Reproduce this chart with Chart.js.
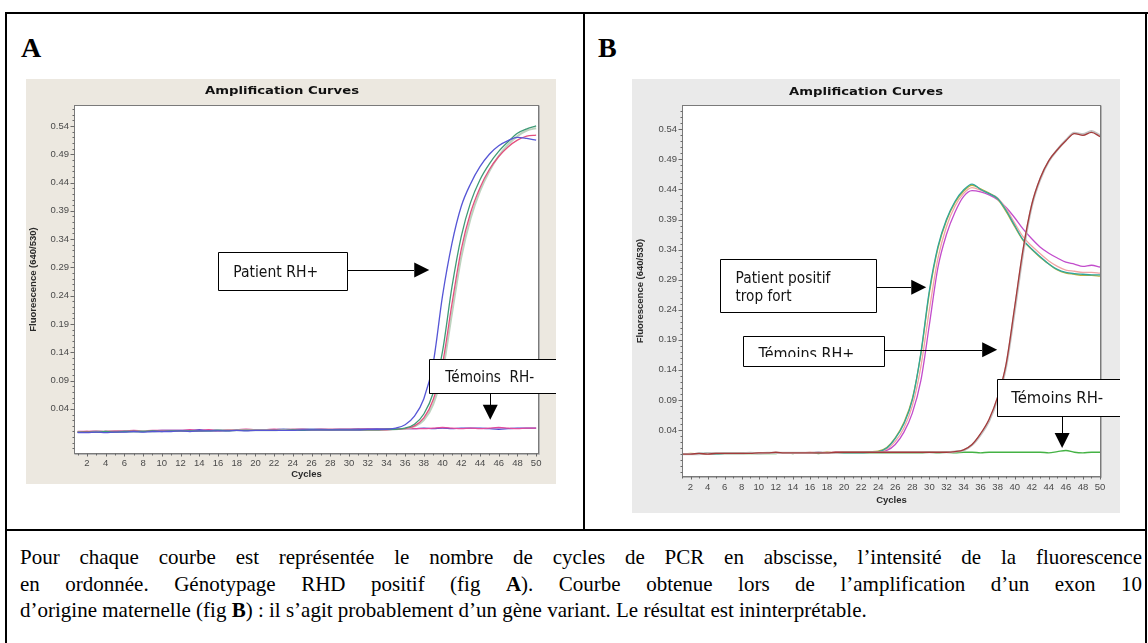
<!DOCTYPE html>
<html lang="fr">
<head>
<meta charset="utf-8">
<title>Amplification Curves</title>
<script src="https://cdn.jsdelivr.net/npm/chart.js@4.4.1/dist/chart.umd.min.js"></script>
<style>
  html, body { margin: 0; padding: 0; background: #fff; }
  body { width: 1148px; height: 643px; position: relative; overflow: hidden; }
  .ln { position: absolute; background: #000; }
  .plab { position: absolute; font-family: "Liberation Serif", serif; font-weight: bold; font-size: 28px; line-height: 28px; color: #000; }
  .cv { position: absolute; }
  .cap { position: absolute; left: 20px; font-family: "Liberation Serif", serif; font-size: 21px; line-height: 22px; white-space: nowrap; color: #000; }
</style>
</head>
<body>
<div class="ln" style="left:5px;top:12px;width:1143px;height:2px"></div>
<div class="ln" style="left:5px;top:12px;width:2px;height:631px"></div>
<div class="ln" style="left:1145px;top:12px;width:2px;height:631px"></div>
<div class="ln" style="left:583px;top:12px;width:2px;height:518px"></div>
<div class="ln" style="left:5px;top:529px;width:1142px;height:2px"></div>

<div class="plab" style="left:21px;top:34px">A</div>
<div class="plab" style="left:598px;top:34px">B</div>

<canvas id="chartA" class="cv" style="left:26px;top:79px" width="530" height="405"></canvas>
<canvas id="chartB" class="cv" style="left:632px;top:79px" width="488" height="434"></canvas>

<div id="cap1" class="cap" style="top:546px">Pour chaque courbe est représentée le nombre de cycles de PCR en abscisse, l’intensité de la fluorescence</div>
<div id="cap2" class="cap" style="top:573px">en ordonnée. Génotypage RHD positif (fig <b>A</b>). Courbe obtenue lors de l’amplification d’un exon 10</div>
<div id="cap3" class="cap" style="top:599px">d’origine maternelle (fig <b>B</b>) : il s’agit probablement d’un gène variant. Le résultat est ininterprétable.</div>

<script>
// ---------------- DATA ----------------
const cycles = [1,2,3,4,5,6,7,8,9,10,11,12,13,14,15,16,17,18,19,20,21,22,23,24,25,
                26,27,28,29,30,31,32,33,34,35,36,37,38,39,40,41,42,43,44,45,46,47,48,49,50];
const xTickValues = [2,4,6,8,10,12,14,16,18,20,22,24,26,28,30,32,34,36,38,40,42,44,46,48,50];
const yTickValues = [0.04,0.09,0.14,0.19,0.24,0.29,0.34,0.39,0.44,0.49,0.54];

// Panel A – RHD positive patient (4 replicates) and RH- controls
const A_blue = [
 -0.002,-0.002,-0.001,-0.002,-0.001,-0.001,0.000,-0.001,0.000,0.000,
 0.000,0.001,0.000,0.001,0.001,0.001,0.001,0.002,0.001,0.002,
 0.002,0.002,0.002,0.002,0.003,0.003,0.003,0.003,0.003,0.003,
 0.003,0.004,0.004,0.004,0.006,0.012,0.027,0.058,0.121,0.240,
 0.332,0.398,0.438,0.468,0.490,0.505,0.514,0.520,0.518,0.515];
const A_green = [
 -0.001,-0.001,-0.001,0.000,-0.001,0.000,0.000,0.000,0.001,0.000,
 0.001,0.001,0.001,0.001,0.001,0.002,0.001,0.002,0.002,0.002,
 0.002,0.002,0.002,0.003,0.002,0.003,0.003,0.003,0.003,0.003,
 0.003,0.003,0.003,0.004,0.004,0.006,0.013,0.031,0.068,0.142,
 0.255,0.345,0.405,0.445,0.473,0.495,0.512,0.527,0.535,0.540];
const A_pink = [
 -0.001,0.000,-0.001,0.000,0.000,0.000,0.001,0.000,0.001,0.001,
 0.001,0.001,0.001,0.001,0.002,0.001,0.002,0.002,0.002,0.002,
 0.002,0.003,0.002,0.003,0.003,0.003,0.003,0.003,0.003,0.003,
 0.003,0.003,0.003,0.003,0.004,0.005,0.010,0.024,0.056,0.120,
 0.225,0.322,0.387,0.431,0.463,0.486,0.503,0.515,0.522,0.524];
const A_pale = [
 -0.001,-0.001,0.000,0.000,0.000,0.000,0.000,0.001,0.000,0.001,
 0.001,0.001,0.001,0.001,0.001,0.002,0.002,0.002,0.002,0.002,
 0.002,0.002,0.003,0.003,0.003,0.003,0.003,0.003,0.003,0.003,
 0.003,0.003,0.003,0.003,0.004,0.005,0.009,0.020,0.048,0.106,
 0.208,0.308,0.377,0.425,0.460,0.487,0.507,0.522,0.532,0.536];
const A_negMagenta = [
 0.000,0.000,0.001,0.000,0.001,0.001,0.002,0.001,0.002,0.002,
 0.002,0.002,0.003,0.002,0.003,0.002,0.003,0.003,0.004,0.003,
 0.003,0.004,0.003,0.004,0.004,0.003,0.004,0.004,0.004,0.004,
 0.004,0.005,0.004,0.005,0.005,0.005,0.005,0.005,0.006,0.007,
 0.006,0.005,0.006,0.005,0.006,0.007,0.006,0.005,0.006,0.006];
const A_negBlue = [
 -0.001,-0.001,0.000,-0.001,0.000,0.001,0.001,0.001,0.001,0.002,
 0.002,0.002,0.002,0.003,0.002,0.003,0.003,0.002,0.003,0.003,
 0.003,0.003,0.004,0.003,0.004,0.004,0.004,0.003,0.004,0.004,
 0.005,0.004,0.005,0.004,0.005,0.005,0.005,0.006,0.005,0.006,
 0.005,0.006,0.006,0.006,0.005,0.004,0.005,0.006,0.006,0.006];

// Panel B – "too strong" positive patient (4 replicates), RH+ controls, RH- control
const B_teal = [
 0.000,0.000,0.001,0.001,0.000,0.001,0.001,0.001,0.001,0.001,
 0.001,0.001,0.002,0.001,0.002,0.002,0.002,0.002,0.002,0.002,
 0.002,0.002,0.003,0.004,0.010,0.026,0.050,0.090,0.168,0.272,
 0.345,0.390,0.420,0.439,0.449,0.440,0.433,0.425,0.405,0.380,
 0.356,0.341,0.328,0.316,0.307,0.302,0.300,0.299,0.298,0.298];
const B_olive = [
 0.000,0.001,0.000,0.001,0.001,0.001,0.001,0.001,0.002,0.001,
 0.001,0.002,0.002,0.002,0.002,0.002,0.002,0.003,0.002,0.003,
 0.003,0.003,0.004,0.005,0.011,0.027,0.052,0.092,0.166,0.268,
 0.342,0.388,0.418,0.437,0.447,0.441,0.434,0.424,0.403,0.378,
 0.355,0.340,0.327,0.316,0.306,0.301,0.299,0.297,0.297,0.296];
const B_salmon = [
 0.000,0.000,0.001,0.000,0.001,0.001,0.001,0.002,0.001,0.002,
 0.002,0.002,0.002,0.002,0.002,0.003,0.002,0.003,0.003,0.003,
 0.003,0.003,0.003,0.004,0.008,0.021,0.043,0.080,0.145,0.240,
 0.325,0.378,0.412,0.433,0.443,0.439,0.433,0.426,0.408,0.384,
 0.361,0.346,0.333,0.321,0.312,0.306,0.304,0.302,0.302,0.301];
const B_magenta = [
 0.000,0.000,0.000,0.001,0.001,0.001,0.001,0.001,0.001,0.002,
 0.001,0.002,0.002,0.002,0.002,0.002,0.003,0.002,0.003,0.003,
 0.003,0.003,0.003,0.004,0.006,0.016,0.036,0.068,0.122,0.215,
 0.310,0.365,0.402,0.428,0.438,0.436,0.431,0.423,0.410,0.393,
 0.374,0.358,0.344,0.334,0.326,0.319,0.316,0.312,0.314,0.311];
const B_red = [
 0.000,0.000,0.001,0.000,0.001,0.001,0.001,0.001,0.001,0.002,
 0.002,0.003,0.002,0.002,0.002,0.002,0.002,0.002,0.003,0.003,
 0.003,0.003,0.003,0.003,0.003,0.003,0.003,0.003,0.003,0.003,
 0.003,0.003,0.004,0.007,0.016,0.034,0.058,0.095,0.150,0.245,
 0.342,0.415,0.459,0.488,0.506,0.521,0.533,0.530,0.535,0.528];
const B_gray = [
 0.000,0.000,0.000,0.001,0.001,0.001,0.001,0.001,0.002,0.001,
 0.002,0.002,0.002,0.002,0.002,0.002,0.003,0.002,0.002,0.003,
 0.003,0.003,0.003,0.003,0.003,0.003,0.003,0.003,0.003,0.003,
 0.003,0.003,0.004,0.006,0.015,0.032,0.055,0.092,0.146,0.238,
 0.336,0.412,0.457,0.487,0.506,0.522,0.534,0.532,0.537,0.530];
const B_negGreen = [
 0.000,0.000,0.000,0.001,0.000,0.001,0.001,0.001,0.001,0.001,
 0.001,0.001,0.002,0.001,0.002,0.002,0.001,0.002,0.002,0.002,
 0.002,0.002,0.002,0.002,0.002,0.002,0.002,0.002,0.002,0.003,
 0.002,0.003,0.002,0.003,0.003,0.002,0.003,0.003,0.003,0.003,
 0.003,0.003,0.003,0.002,0.004,0.006,0.003,0.002,0.003,0.003];

// ---------------- DECORATION PLUGIN ----------------
const panelDeco = {
  id: 'panelDeco',
  beforeDraw(chart, args, o) {
    const {ctx, chartArea: a} = chart;
    ctx.save();
    ctx.fillStyle = o.bg;
    ctx.fillRect(0, 0, chart.width, chart.height);
    ctx.fillStyle = '#ffffff';
    ctx.fillRect(a.left, a.top, a.right - a.left, a.bottom - a.top);
    ctx.restore();
  },
  afterDraw(chart, args, o) {
    const {ctx, chartArea: a} = chart;
    const xs = chart.scales.x, ys = chart.scales.y;
    ctx.save();
    // plot frame
    const L = Math.round(a.left) - 0.5, T = Math.round(a.top) - 0.5;
    const R = Math.round(a.right) + 0.5, B = Math.round(a.bottom) + 0.5;
    ctx.strokeStyle = '#7a7a7a'; ctx.lineWidth = 1;
    ctx.strokeRect(L, T, R - L, B - T);
    ctx.strokeStyle = '#b5b5b5';
    ctx.beginPath(); ctx.moveTo(R + 1, T); ctx.lineTo(R + 1, B + 1); ctx.lineTo(L, B + 1); ctx.stroke();
    // tick marks
    ctx.strokeStyle = '#6a6a6a';
    ctx.beginPath();
    for (let k = -3; k <= 57; k++) {
      const v = k / 100;
      if (v < ys.min || v > ys.max) continue;
      const major = yTickValues.some(t => Math.abs(t - v) < 1e-6);
      const py = Math.round(ys.getPixelForValue(v)) + 0.5;
      ctx.moveTo(L - (major ? 4 : 2), py); ctx.lineTo(L, py);
    }
    for (let c = 1; c <= 50; c++) {
      const px = Math.round(xs.getPixelForValue(c)) + 0.5;
      if (px < L || px > R) continue;
      ctx.moveTo(px, B); ctx.lineTo(px, B + (c % 2 === 0 ? 3 : 2));
    }
    ctx.stroke();
    // chart title
    ctx.fillStyle = '#111';
    ctx.font = 'bold 11px "DejaVu Sans"';
    ctx.textBaseline = 'middle'; ctx.textAlign = 'left';
    drawFit(ctx, o.title, chart.width / 2 + o.titleDx - o.titleW / 2, o.titleY, o.titleW);
    // annotations
    for (const n of o.notes) {
      const x1 = xs.getPixelForValue(n.box[0]);
      const y1 = ys.getPixelForValue(n.box[1]);
      const x2 = n.open ? chart.width + 3 : xs.getPixelForValue(n.box[2]);
      const y2 = ys.getPixelForValue(n.box[3]);
      const bl = Math.round(x1) + 0.5, bt = Math.round(y1) + 0.5, br = Math.round(x2) + 0.5, bb = Math.round(y2) + 0.5;
      ctx.fillStyle = '#fff';
      ctx.fillRect(bl, bt, br - bl, bb - bt);
      ctx.strokeStyle = '#000'; ctx.lineWidth = 1;
      ctx.beginPath();
      ctx.moveTo(br, bt); ctx.lineTo(bl, bt); ctx.lineTo(bl, bb); ctx.lineTo(br, bb);
      if (!n.open) ctx.closePath();
      ctx.stroke();
      ctx.save();
      const clipB = n.clipY !== undefined ? ys.getPixelForValue(n.clipY) : bb - 1;
      ctx.beginPath(); ctx.rect(bl + 1, bt + 1, br - bl - 2, clipB - bt - 1); ctx.clip();
      ctx.fillStyle = '#141414';
      ctx.font = '15px "DejaVu Sans"';
      ctx.textBaseline = 'alphabetic'; ctx.textAlign = 'left';
      for (const t of n.lines) {
        drawFit(ctx, t.t, xs.getPixelForValue(t.x), ys.getPixelForValue(t.y), t.w);
      }
      ctx.restore();
      // arrow
      const fx = xs.getPixelForValue(n.arrow[0]), fy = ys.getPixelForValue(n.arrow[1]);
      const tx = xs.getPixelForValue(n.arrow[2]), ty = ys.getPixelForValue(n.arrow[3]);
      const dx = tx - fx, dy = ty - fy, len = Math.hypot(dx, dy);
      const ux = dx / len, uy = dy / len, head = 15, hw = 7.5;
      const hx = tx - ux * head, hy = ty - uy * head;
      ctx.strokeStyle = '#000'; ctx.lineWidth = 1;
      ctx.beginPath();
      ctx.moveTo(Math.round(fx) + (uy ? 0.5 : 0), Math.round(fy) + (ux ? 0.5 : 0));
      ctx.lineTo(Math.round(hx) + (uy ? 0.5 : 0), Math.round(hy) + (ux ? 0.5 : 0));
      ctx.stroke();
      ctx.fillStyle = '#000';
      ctx.beginPath();
      ctx.moveTo(tx, ty);
      ctx.lineTo(hx - uy * hw, hy + ux * hw);
      ctx.lineTo(hx + uy * hw, hy - ux * hw);
      ctx.closePath(); ctx.fill();
    }
    ctx.restore();
  }
};

function drawFit(ctx, text, x, y, w) {
  const m = ctx.measureText(text).width;
  const sx = w ? w / m : 1;
  ctx.save();
  ctx.translate(x, y);
  ctx.scale(sx, 1);
  ctx.fillText(text, 0, 0);
  ctx.restore();
}

// ---------------- CHART BUILDER ----------------
function buildChart(id, series, cfg) {
  const datasets = series.map(s => ({
    label: s.name,
    data: cycles.map((c, i) => ({x: c, y: s.values[i]})),
    borderColor: s.color,
    borderWidth: s.width,
    pointRadius: 0,
    fill: false,
    cubicInterpolationMode: 'monotone'
  }));
  const tickFont = {family: 'Liberation Sans', size: 9.5};
  const titleFont = {family: 'Liberation Sans', size: 9.5, weight: 'bold'};
  return new Chart(document.getElementById(id), {
    type: 'line',
    data: {datasets},
    plugins: [panelDeco],
    options: {
      responsive: false,
      animation: false,
      events: [],
      layout: {padding: cfg.padding},
      plugins: {
        legend: {display: false},
        tooltip: {enabled: false},
        title: {display: false},
        panelDeco: cfg.deco
      },
      scales: {
        x: {
          type: 'linear', min: cfg.xMin, max: cfg.xMax,
          afterBuildTicks: s => { s.ticks = xTickValues.map(v => ({value: v})); },
          afterFit: s => { s.height = cfg.xHeight; },
          ticks: {autoSkip: false, maxRotation: 0, minRotation: 0, padding: cfg.xPad,
                  color: '#4a4a4a', font: tickFont, callback: v => String(v)},
          grid: {display: false, drawTicks: false},
          border: {display: false},
          title: {display: true, text: 'Cycles', color: '#2a2a2a', font: titleFont,
                  padding: {top: 0, bottom: cfg.xTitlePad}}
        },
        y: {
          type: 'linear', min: cfg.yMin, max: cfg.yMax,
          afterBuildTicks: s => { s.ticks = yTickValues.map(v => ({value: v})); },
          afterFit: s => { s.width = cfg.yWidth; },
          ticks: {padding: 6, color: '#4a4a4a', font: tickFont, callback: v => v.toFixed(2)},
          grid: {display: false, drawTicks: false},
          border: {display: false},
          title: {display: true, text: 'Fluorescence (640/530)', color: '#2a2a2a', font: titleFont,
                  padding: {top: cfg.yTitlePad, bottom: 0}}
        }
      }
    }
  });
}

buildChart('chartA', [
  {name: 'Patient 1', values: A_blue,  color: '#5656d6', width: 1.3},
  {name: 'Patient 2', values: A_green, color: '#3f9a76', width: 1.3},
  {name: 'Patient 3', values: A_pink,  color: '#e4507e', width: 1.3},
  {name: 'Patient 4', values: A_pale,  color: '#bcd3bf', width: 2},
  {name: 'Témoin RH- 1', values: A_negMagenta, color: '#e24a9c', width: 1.4},
  {name: 'Témoin RH- 2', values: A_negBlue,    color: '#4a4ad0', width: 1.4}
], {
  padding: {top: 27, right: 18, left: 0, bottom: 0},
  xMin: 0.72, xMax: 50.2, yMin: -0.038, yMax: 0.5753,
  yWidth: 49, xHeight: 31, xPad: 5, xTitlePad: 3.5, yTitlePad: 2,
  deco: {
    bg: '#ece8e0', title: 'Amplification Curves', titleY: 12, titleDx: -9, titleW: 154,
    notes: [
      {box: [16.01, 0.3174, 29.81, 0.2502],
       lines: [{t: 'Patient RH+', x: 17.62, y: 0.2732, w: 85}],
       arrow: [29.81, 0.2856, 38.58, 0.2856]},
      {box: [38.58, 0.1283, 53, 0.0683], open: true,
       lines: [{t: 'Témoins  RH-', x: 40.29, y: 0.0882, w: 89}],
       arrow: [45.1, 0.0683, 45.1, 0.0206]}
    ]
  }
});

buildChart('chartB', [
  {name: 'Témoin RH+ 1', values: B_red,    color: '#a43a3a', width: 1.3},
  {name: 'Témoin RH+ 2', values: B_gray,   color: '#c2c2c2', width: 2.2},
  {name: 'Patient 1',    values: B_teal,   color: '#2fa69c', width: 1.3},
  {name: 'Patient 2',    values: B_olive,  color: '#b9b03c', width: 1.3},
  {name: 'Patient 3',    values: B_salmon, color: '#f2a4a4', width: 1.3},
  {name: 'Patient 4',    values: B_magenta,color: '#c24ccc', width: 1.3},
  {name: 'Témoin RH-',   values: B_negGreen, color: '#44b244', width: 1.4}
], {
  padding: {top: 27, right: 20, left: 0, bottom: 0},
  xMin: 1.12, xMax: 50, yMin: -0.0365, yMax: 0.5788,
  yWidth: 51, xHeight: 37, xPad: 6, xTitlePad: 7.3, yTitlePad: 2.3,
  deco: {
    bg: '#eaeaea', title: 'Amplification Curves', titleY: 13, titleDx: -10, titleW: 154,
    notes: [
      {box: [5.45, 0.3248, 23.78, 0.2354],
       lines: [{t: 'Patient positif', x: 7.27, y: 0.2839, w: 95},
               {t: 'trop fort', x: 7.27, y: 0.2552, w: 56}],
       arrow: [23.78, 0.2773, 29.63, 0.2773]},
      {box: [8.21, 0.1956, 24.72, 0.146], clipY: 0.1614,
       lines: [{t: 'Témoins RH+', x: 9.96, y: 0.1587, w: 96}],
       arrow: [24.72, 0.1736, 37.95, 0.1736]},
      {box: [37.95, 0.1244, 53, 0.0632], open: true,
       lines: [{t: 'Témoins RH-', x: 39.59, y: 0.0852, w: 92}],
       arrow: [45.56, 0.0632, 45.56, 0.0102]}
    ]
  }
});

// ---------------- CAPTION JUSTIFICATION ----------------
(function () {
  const target = 1122;
  ['cap1', 'cap2'].forEach(id => {
    const el = document.getElementById(id);
    const w = el.getBoundingClientRect().width;
    const spaces = (el.textContent.match(/ /g) || []).length;
    el.style.wordSpacing = ((target - w) / spaces) + 'px';
  });
})();
</script>
</body>
</html>
